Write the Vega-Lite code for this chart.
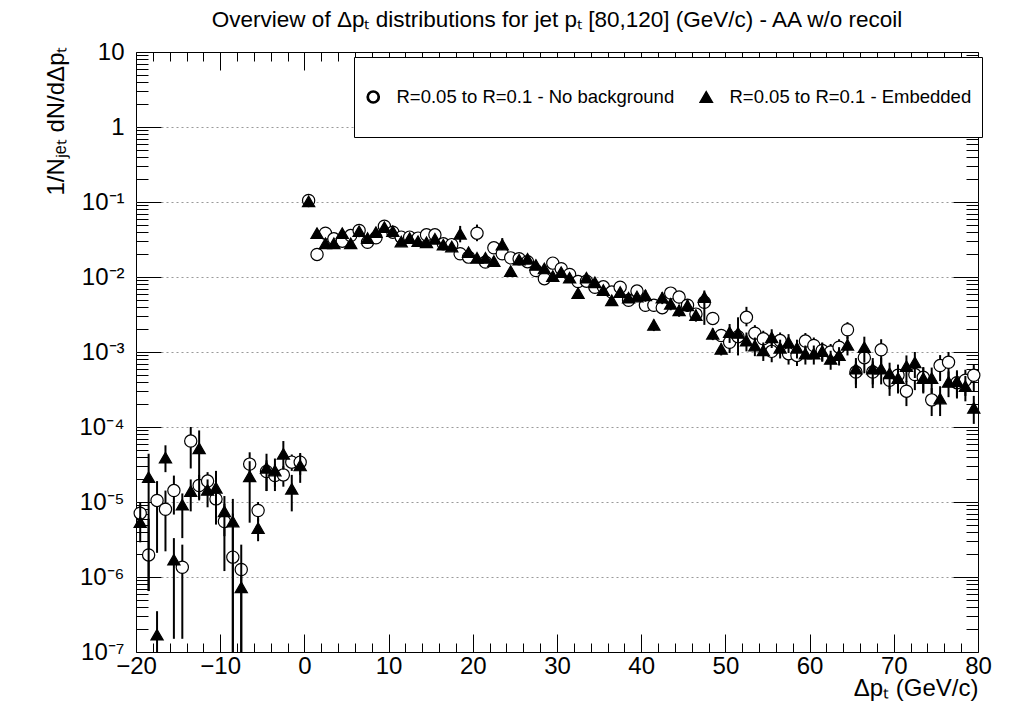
{
"$schema": "https://vega.github.io/schema/vega-lite/v6.json",
"width": 842, "height": 600,
"autosize": {"type": "none"},
"padding": {"left": 136, "top": 52, "right": 31, "bottom": 59},
"background": "white",
"config": {
  "font": "Liberation Sans",
  "view": {"stroke": "black", "strokeWidth": 1},
  "axis": {"labelFont": "Liberation Sans", "titleFont": "Liberation Sans", "labelColor": "black", "titleColor": "black", "tickColor": "black", "tickWidth": 1, "titleFontWeight": "normal", "domain": false, "labelFlush": false, "labelOverlap": false, "grid": false},
  "legend": {"title": null, "orient": "none", "legendX": 218, "legendY": 5, "direction": "horizontal", "padding": 10, "clipHeight": 60, "columnPadding": 22, "labelOffset": 14, "strokeColor": "black", "fillColor": "white", "labelFontSize": 18.5, "labelFont": "Liberation Sans", "labelColor": "black", "labelLimit": 500, "symbolSize": 150, "symbolOpacity": 1}
},
"title": {"text": "Overview of Δpₜ distributions for jet pₜ [80,120] (GeV/c) - AA w/o recoil", "font": "Liberation Sans", "fontSize": 22.5, "fontWeight": "normal", "color": "black", "anchor": "middle", "frame": "group", "baseline": "alphabetic", "offset": -9},
"datasets": {"pts": [
{"x":-19.5,"y":7.1e-6,"s":"n","lo":4.5e-6,"hi":1.0e-5},
{"x":-18.5,"y":1.97e-6,"s":"n","lo":6.5e-7,"hi":6e-6},
{"x":-17.5,"y":1.05e-5,"s":"n","lo":2.1e-6,"hi":1.9e-5},
{"x":-16.5,"y":8.0e-6,"s":"n","lo":2.2e-6,"hi":1.42e-5},
{"x":-15.5,"y":1.42e-5,"s":"n","lo":6.8e-6,"hi":2.25e-5},
{"x":-14.5,"y":1.35e-6,"s":"n","lo":1.5e-7,"hi":2.7e-6},
{"x":-13.5,"y":6.5e-5,"s":"n","lo":2.8e-5,"hi":1.0e-4},
{"x":-12.5,"y":1.66e-5,"s":"n","lo":1.1e-5,"hi":2.3e-5},
{"x":-11.5,"y":1.9e-5,"s":"n","lo":1.4e-5,"hi":2.5e-5},
{"x":-10.5,"y":1.1e-5,"s":"n","lo":7e-6,"hi":1.5e-5},
{"x":-9.5,"y":5.5e-6,"s":"n","lo":1.2e-6,"hi":9.5e-6},
{"x":-8.5,"y":1.84e-6,"s":"n","lo":1e-8,"hi":7e-6},
{"x":-7.5,"y":1.26e-6,"s":"n","lo":1e-8,"hi":2.7e-6},
{"x":-6.5,"y":3.2e-5,"s":"n","lo":1.9e-5,"hi":4.6e-5},
{"x":-5.5,"y":7.7e-6,"s":"n","lo":5.5e-6,"hi":1.0e-5},
{"x":-4.5,"y":2.55e-5,"s":"n","lo":1.4e-5,"hi":3.6e-5},
{"x":-3.5,"y":2.25e-5,"s":"n","lo":1.4e-5,"hi":3.2e-5},
{"x":-2.5,"y":2.3e-5,"s":"n","lo":1.6e-5,"hi":3.0e-5},
{"x":-1.5,"y":3.4e-5,"s":"n","lo":2.6e-5,"hi":4.3e-5},
{"x":-0.5,"y":3.4e-5,"s":"n","lo":2.3e-5,"hi":4.5e-5},
{"x":0.5,"y":0.105,"s":"n"},
{"x":1.5,"y":0.0200,"s":"n"},
{"x":2.5,"y":0.0384,"s":"n"},
{"x":3.5,"y":0.0323,"s":"n"},
{"x":4.5,"y":0.0300,"s":"n"},
{"x":5.5,"y":0.0357,"s":"n"},
{"x":6.5,"y":0.0417,"s":"n"},
{"x":7.5,"y":0.0290,"s":"n"},
{"x":8.5,"y":0.0333,"s":"n"},
{"x":9.5,"y":0.0476,"s":"n"},
{"x":10.5,"y":0.0396,"s":"n"},
{"x":11.5,"y":0.0340,"s":"n"},
{"x":12.5,"y":0.0340,"s":"n"},
{"x":13.5,"y":0.0330,"s":"n"},
{"x":14.5,"y":0.0365,"s":"n"},
{"x":15.5,"y":0.0365,"s":"n"},
{"x":16.5,"y":0.0277,"s":"n"},
{"x":17.5,"y":0.0270,"s":"n"},
{"x":18.5,"y":0.0204,"s":"n"},
{"x":19.5,"y":0.0184,"s":"n"},
{"x":20.5,"y":0.0384,"s":"n","lo":0.030,"hi":0.050},
{"x":21.5,"y":0.0158,"s":"n"},
{"x":22.5,"y":0.0245,"s":"n"},
{"x":23.5,"y":0.0204,"s":"n"},
{"x":24.5,"y":0.0180,"s":"n"},
{"x":25.5,"y":0.0175,"s":"n"},
{"x":26.5,"y":0.0160,"s":"n"},
{"x":27.5,"y":0.0122,"s":"n"},
{"x":28.5,"y":0.0095,"s":"n"},
{"x":29.5,"y":0.0153,"s":"n"},
{"x":30.5,"y":0.0129,"s":"n"},
{"x":31.5,"y":0.0108,"s":"n"},
{"x":32.5,"y":0.0087,"s":"n"},
{"x":33.5,"y":0.0088,"s":"n"},
{"x":34.5,"y":0.0073,"s":"n"},
{"x":35.5,"y":0.0074,"s":"n"},
{"x":36.5,"y":0.0063,"s":"n"},
{"x":37.5,"y":0.0073,"s":"n"},
{"x":38.5,"y":0.0049,"s":"n"},
{"x":39.5,"y":0.0065,"s":"n"},
{"x":40.5,"y":0.0042,"s":"n","lo":0.00344,"hi":0.00496},
{"x":41.5,"y":0.0042,"s":"n","lo":0.00344,"hi":0.00496},
{"x":42.5,"y":0.0039,"s":"n","lo":0.0032,"hi":0.0046},
{"x":43.5,"y":0.0061,"s":"n","lo":0.005,"hi":0.0072},
{"x":44.5,"y":0.0054,"s":"n","lo":0.00443,"hi":0.00637},
{"x":45.5,"y":0.0042,"s":"n","lo":0.00344,"hi":0.00496},
{"x":46.5,"y":0.0032,"s":"n","lo":0.00262,"hi":0.00378},
{"x":47.5,"y":0.0046,"s":"n","lo":0.00377,"hi":0.00543},
{"x":48.5,"y":0.0028,"s":"n","lo":0.0023,"hi":0.0033},
{"x":49.5,"y":0.00166,"s":"n","lo":0.00136,"hi":0.00196},
{"x":50.5,"y":0.00135,"s":"n","lo":0.00097,"hi":0.00173},
{"x":51.5,"y":0.0016,"s":"n","lo":0.00115,"hi":0.00205},
{"x":52.5,"y":0.0029,"s":"n","lo":0.0022,"hi":0.004},
{"x":53.5,"y":0.00178,"s":"n","lo":0.00128,"hi":0.00228},
{"x":54.5,"y":0.0015,"s":"n","lo":0.00108,"hi":0.00192},
{"x":55.5,"y":0.00102,"s":"n","lo":0.00073,"hi":0.00131},
{"x":56.5,"y":0.00142,"s":"n","lo":0.00102,"hi":0.00182},
{"x":57.5,"y":0.00095,"s":"n","lo":0.00068,"hi":0.00122},
{"x":58.5,"y":0.0009,"s":"n","lo":0.00065,"hi":0.00115},
{"x":59.5,"y":0.0014,"s":"n","lo":0.00101,"hi":0.00179},
{"x":60.5,"y":0.00122,"s":"n","lo":0.00088,"hi":0.00156},
{"x":61.5,"y":0.00105,"s":"n","lo":0.00076,"hi":0.00134},
{"x":62.5,"y":0.0010,"s":"n","lo":0.00072,"hi":0.00128},
{"x":63.5,"y":0.00116,"s":"n","lo":0.00084,"hi":0.00148},
{"x":64.5,"y":0.00198,"s":"n","lo":0.0015,"hi":0.0025},
{"x":65.5,"y":0.00054,"s":"n","lo":0.00033,"hi":0.00075},
{"x":66.5,"y":0.00084,"s":"n","lo":0.00052,"hi":0.00116},
{"x":67.5,"y":0.00054,"s":"n","lo":0.00033,"hi":0.00075},
{"x":68.5,"y":0.00107,"s":"n","lo":0.00066,"hi":0.00148},
{"x":69.5,"y":0.00042,"s":"n","lo":0.00026,"hi":0.00058},
{"x":70.5,"y":0.00049,"s":"n","lo":0.0003,"hi":0.00068},
{"x":71.5,"y":0.0003,"s":"n","lo":0.00019,"hi":0.00041},
{"x":72.5,"y":0.0005,"s":"n","lo":0.00031,"hi":0.00069},
{"x":73.5,"y":0.00046,"s":"n","lo":0.00029,"hi":0.00063},
{"x":74.5,"y":0.00023,"s":"n","lo":0.00014,"hi":0.00033},
{"x":75.5,"y":0.00066,"s":"n","lo":0.00041,"hi":0.00091},
{"x":76.5,"y":0.00073,"s":"n","lo":0.00045,"hi":0.001},
{"x":77.5,"y":0.00039,"s":"n","lo":0.00024,"hi":0.00054},
{"x":78.5,"y":0.00042,"s":"n","lo":0.00026,"hi":0.00058},
{"x":79.5,"y":0.00049,"s":"n","lo":0.0003,"hi":0.00068},
{"x":-19.5,"y":5.4e-6,"s":"e","lo":2.9e-6,"hi":8.7e-6},
{"x":-18.5,"y":2.14e-5,"s":"e","lo":6.5e-7,"hi":4.4e-5},
{"x":-17.5,"y":1.7e-7,"s":"e","lo":1e-8,"hi":3.5e-7},
{"x":-16.5,"y":3.9e-5,"s":"e","lo":2.5e-5,"hi":5.7e-5},
{"x":-15.5,"y":1.7e-6,"s":"e","lo":1.5e-7,"hi":3.3e-6},
{"x":-14.5,"y":9.2e-6,"s":"e","lo":3.3e-6,"hi":1.3e-5},
{"x":-13.5,"y":1.4e-5,"s":"e","lo":7.5e-6,"hi":2.0e-5},
{"x":-12.5,"y":5.2e-5,"s":"e","lo":1.05e-5,"hi":9e-5},
{"x":-11.5,"y":1.45e-5,"s":"e","lo":8.5e-6,"hi":2.0e-5},
{"x":-10.5,"y":1.55e-5,"s":"e","lo":5e-6,"hi":2.6e-5},
{"x":-9.5,"y":7.5e-6,"s":"e","lo":3.5e-6,"hi":1.2e-5},
{"x":-8.5,"y":5.5e-6,"s":"e","lo":1e-8,"hi":1.1e-5},
{"x":-7.5,"y":7.3e-7,"s":"e","lo":1e-8,"hi":1.5e-6},
{"x":-6.5,"y":2.2e-5,"s":"e","lo":5.3e-6,"hi":3.5e-5},
{"x":-5.5,"y":4.5e-6,"s":"e","lo":3e-6,"hi":6e-6},
{"x":-4.5,"y":2.86e-5,"s":"e","lo":1.4e-5,"hi":4.4e-5},
{"x":-3.5,"y":2.63e-5,"s":"e","lo":1.6e-5,"hi":3.8e-5},
{"x":-2.5,"y":4.4e-5,"s":"e","lo":2.7e-5,"hi":6.5e-5},
{"x":-1.5,"y":1.5e-5,"s":"e","lo":7.5e-6,"hi":2.3e-5},
{"x":-0.5,"y":3.07e-5,"s":"e","lo":1.8e-5,"hi":4.3e-5},
{"x":0.5,"y":0.102,"s":"e"},
{"x":1.5,"y":0.0384,"s":"e"},
{"x":2.5,"y":0.0282,"s":"e"},
{"x":3.5,"y":0.0282,"s":"e"},
{"x":4.5,"y":0.0384,"s":"e"},
{"x":5.5,"y":0.0282,"s":"e"},
{"x":6.5,"y":0.0408,"s":"e"},
{"x":7.5,"y":0.0330,"s":"e"},
{"x":8.5,"y":0.0396,"s":"e"},
{"x":9.5,"y":0.0462,"s":"e"},
{"x":10.5,"y":0.0408,"s":"e"},
{"x":11.5,"y":0.0297,"s":"e"},
{"x":12.5,"y":0.0330,"s":"e"},
{"x":13.5,"y":0.0300,"s":"e"},
{"x":14.5,"y":0.0290,"s":"e"},
{"x":15.5,"y":0.0323,"s":"e"},
{"x":16.5,"y":0.0270,"s":"e"},
{"x":17.5,"y":0.0255,"s":"e"},
{"x":18.5,"y":0.0377,"s":"e","lo":0.029,"hi":0.048},
{"x":19.5,"y":0.0214,"s":"e"},
{"x":20.5,"y":0.0180,"s":"e"},
{"x":21.5,"y":0.0180,"s":"e"},
{"x":22.5,"y":0.0163,"s":"e"},
{"x":23.5,"y":0.0271,"s":"e","lo":0.023,"hi":0.033},
{"x":24.5,"y":0.0120,"s":"e"},
{"x":25.5,"y":0.0170,"s":"e"},
{"x":26.5,"y":0.0175,"s":"e"},
{"x":27.5,"y":0.0145,"s":"e"},
{"x":28.5,"y":0.0130,"s":"e"},
{"x":29.5,"y":0.0103,"s":"e"},
{"x":30.5,"y":0.0116,"s":"e"},
{"x":31.5,"y":0.0098,"s":"e"},
{"x":32.5,"y":0.0061,"s":"e"},
{"x":33.5,"y":0.0098,"s":"e"},
{"x":34.5,"y":0.0085,"s":"e"},
{"x":35.5,"y":0.0067,"s":"e"},
{"x":36.5,"y":0.0049,"s":"e"},
{"x":37.5,"y":0.0063,"s":"e"},
{"x":38.5,"y":0.0053,"s":"e"},
{"x":39.5,"y":0.0055,"s":"e"},
{"x":40.5,"y":0.0057,"s":"e","lo":0.00467,"hi":0.00673},
{"x":41.5,"y":0.0023,"s":"e","lo":0.0019,"hi":0.0027},
{"x":42.5,"y":0.0053,"s":"e","lo":0.00435,"hi":0.00625},
{"x":43.5,"y":0.0044,"s":"e","lo":0.0036,"hi":0.0052},
{"x":44.5,"y":0.0036,"s":"e","lo":0.00295,"hi":0.00425},
{"x":45.5,"y":0.0042,"s":"e","lo":0.00344,"hi":0.00496},
{"x":46.5,"y":0.0031,"s":"e","lo":0.00254,"hi":0.00366},
{"x":47.5,"y":0.0054,"s":"e","lo":0.0023,"hi":0.0066},
{"x":48.5,"y":0.00175,"s":"e","lo":0.00144,"hi":0.00207},
{"x":49.5,"y":0.0011,"s":"e","lo":0.0009,"hi":0.0013},
{"x":50.5,"y":0.00184,"s":"e","lo":0.00132,"hi":0.00236},
{"x":51.5,"y":0.0018,"s":"e","lo":0.0009,"hi":0.0029},
{"x":52.5,"y":0.00142,"s":"e","lo":0.00102,"hi":0.00182},
{"x":53.5,"y":0.00122,"s":"e","lo":0.00088,"hi":0.00156},
{"x":54.5,"y":0.00105,"s":"e","lo":0.00076,"hi":0.00134},
{"x":55.5,"y":0.00157,"s":"e","lo":0.00113,"hi":0.00201},
{"x":56.5,"y":0.00114,"s":"e","lo":0.00082,"hi":0.00146},
{"x":57.5,"y":0.00135,"s":"e","lo":0.00097,"hi":0.00173},
{"x":58.5,"y":0.00114,"s":"e","lo":0.00082,"hi":0.00146},
{"x":59.5,"y":0.00095,"s":"e","lo":0.00068,"hi":0.00122},
{"x":60.5,"y":0.00095,"s":"e","lo":0.00068,"hi":0.00122},
{"x":61.5,"y":0.00103,"s":"e","lo":0.00074,"hi":0.00132},
{"x":62.5,"y":0.00081,"s":"e","lo":0.00058,"hi":0.00104},
{"x":63.5,"y":0.00091,"s":"e","lo":0.00066,"hi":0.00116},
{"x":64.5,"y":0.00125,"s":"e","lo":0.0009,"hi":0.0016},
{"x":65.5,"y":0.0006,"s":"e","lo":0.00037,"hi":0.00083},
{"x":66.5,"y":0.00116,"s":"e","lo":0.00072,"hi":0.0016},
{"x":67.5,"y":0.0006,"s":"e","lo":0.00037,"hi":0.00083},
{"x":68.5,"y":0.0006,"s":"e","lo":0.00037,"hi":0.00083},
{"x":69.5,"y":0.00052,"s":"e","lo":0.00032,"hi":0.00072},
{"x":70.5,"y":0.00045,"s":"e","lo":0.00028,"hi":0.00062},
{"x":71.5,"y":0.00065,"s":"e","lo":0.0004,"hi":0.0009},
{"x":72.5,"y":0.00073,"s":"e","lo":0.00045,"hi":0.001},
{"x":73.5,"y":0.00045,"s":"e","lo":0.00028,"hi":0.00062},
{"x":74.5,"y":0.00045,"s":"e","lo":0.00028,"hi":0.00062},
{"x":75.5,"y":0.00024,"s":"e","lo":0.00014,"hi":0.00035},
{"x":76.5,"y":0.0004,"s":"e","lo":0.00025,"hi":0.00055},
{"x":77.5,"y":0.00041,"s":"e","lo":0.00025,"hi":0.00057},
{"x":78.5,"y":0.00035,"s":"e","lo":0.00022,"hi":0.00048},
{"x":79.5,"y":0.00018,"s":"e","lo":0.00011,"hi":0.00026}
]},
"data": {"name": "pts"},
"layer": [
  {
    "transform": [{"filter": "datum.s == 'n' && isValid(datum.lo)"}],
    "mark": {"type": "rule", "color": "black", "strokeWidth": 2, "clip": true},
    "encoding": {
      "x": {"field": "x", "type": "quantitative", "scale": {"domain": [-20, 80], "nice": false, "zero": false},
        "axis": {"orient": "bottom", "values": [-20,-10,0,10,20,30,40,50,60,70,80], "ticks": false, "labelFontSize": 24, "labelPadding": 2,
          "title": "Δpₜ (GeV/c)", "titleFontSize": 24, "titleAnchor": "end", "titleAlign": "right", "titleX": 842, "titleY": 43, "titleBaseline": "alphabetic"}},
      "y": {"field": "lo", "type": "quantitative", "scale": {"type": "log", "domain": [1e-7, 10], "nice": false},
        "axis": {"orient": "left", "values": [1e-7,1e-6,1e-5,1e-4,1e-3,1e-2,1e-1,1,10], "ticks": false, "labelFontSize": 24, "labelPadding": 12,
          "labelExpr": "datum.value > 5 ? '10' : datum.value > 0.5 ? '1' : '10' + ['⁻¹','⁻²','⁻³','⁻⁴','⁻⁵','⁻⁶','⁻⁷'][round(-log(datum.value)/LN10) - 1]",
          "title": "1/Nⱼₑₜ dN/dΔpₜ", "titleFontSize": 24, "titleAngle": -90, "titleAlign": "right", "titleBaseline": "middle", "titleX": -80, "titleY": -6}},
      "y2": {"field": "hi"}
    }
  },
  {
    "transform": [{"filter": "datum.s == 'n'"}],
    "mark": {"type": "point", "shape": "circle", "filled": true, "fill": "white", "stroke": "black", "strokeWidth": 1.2, "size": 150, "opacity": 1},
    "encoding": {
      "x": {"field": "x", "type": "quantitative", "scale": {"domain": [-20, 80], "nice": false, "zero": false},
        "axis": {"orient": "bottom", "values": [-20,-10,0,10,20,30,40,50,60,70,80], "labels": false, "tickSize": -18, "title": null}},
      "y": {"field": "y", "type": "quantitative", "scale": {"type": "log", "domain": [1e-7, 10], "nice": false},
        "axis": {"orient": "left", "values": [1e-6,1e-5,1e-4,1e-3,1e-2,1e-1,1], "labels": false, "tickSize": -25, "title": null, "grid": true, "gridColor": "#999999", "gridDash": [2, 3], "gridWidth": 1}}
    }
  },
  {
    "transform": [{"filter": "datum.s == 'e' && isValid(datum.lo)"}],
    "mark": {"type": "rule", "color": "black", "strokeWidth": 2, "clip": true},
    "encoding": {
      "x": {"field": "x", "type": "quantitative", "scale": {"domain": [-20, 80], "nice": false, "zero": false},
        "axis": {"orient": "bottom", "values": [-18,-16,-14,-12,-8,-6,-4,-2,2,4,6,8,12,14,16,18,22,24,26,28,32,34,36,38,42,44,46,48,52,54,56,58,62,64,66,68,72,74,76,78], "labels": false, "tickSize": -9, "title": null}},
      "y": {"field": "lo", "type": "quantitative", "scale": {"type": "log", "domain": [1e-7, 10], "nice": false},
        "axis": {"orient": "left", "values": [2e-7,3e-7,4e-7,5e-7,6e-7,7e-7,8e-7,9e-7,2e-6,3e-6,4e-6,5e-6,6e-6,7e-6,8e-6,9e-6,2e-5,3e-5,4e-5,5e-5,6e-5,7e-5,8e-5,9e-5,2e-4,3e-4,4e-4,5e-4,6e-4,7e-4,8e-4,9e-4,2e-3,3e-3,4e-3,5e-3,6e-3,7e-3,8e-3,9e-3,0.02,0.03,0.04,0.05,0.06,0.07,0.08,0.09,0.2,0.3,0.4,0.5,0.6,0.7,0.8,0.9,2,3,4,5,6,7,8,9], "labels": false, "tickSize": -12, "title": null}},
      "y2": {"field": "hi"}
    }
  },
  {
    "transform": [{"filter": "datum.s == 'e'"}],
    "mark": {"type": "point", "filled": true, "fill": "black", "stroke": "black", "strokeWidth": 1.2, "size": 150, "opacity": 1},
    "encoding": {
      "x": {"field": "x", "type": "quantitative", "scale": {"domain": [-20, 80], "nice": false, "zero": false},
        "axis": {"orient": "top", "values": [-20,-10,0,10,20,30,40,50,60,70,80], "labels": false, "tickSize": -18, "title": null}},
      "y": {"field": "y", "type": "quantitative", "scale": {"type": "log", "domain": [1e-7, 10], "nice": false},
        "axis": {"orient": "right", "values": [1e-6,1e-5,1e-4,1e-3,1e-2,1e-1,1], "labels": false, "tickSize": -25, "title": null}},
      "shape": {"field": "s", "type": "nominal", "scale": {"domain": ["n", "e"], "range": ["M1,0A1,1,0,1,1,-1,0A1,1,0,1,1,1,0Z M0.8,0A0.8,0.8,0,1,0,-0.8,0A0.8,0.8,0,1,0,0.8,0Z", "triangle-up"]},
        "legend": {"labelExpr": "datum.value == 'n' ? 'R=0.05 to R=0.1 - No background' : 'R=0.05 to R=0.1 - Embedded'"}}
    }
  },
  {
    "mark": {"type": "point", "opacity": 0},
    "encoding": {
      "x": {"field": "x", "type": "quantitative", "scale": {"domain": [-20, 80], "nice": false, "zero": false},
        "axis": {"orient": "top", "values": [-18,-16,-14,-12,-8,-6,-4,-2,2,4,6,8,12,14,16,18,22,24,26,28,32,34,36,38,42,44,46,48,52,54,56,58,62,64,66,68,72,74,76,78], "labels": false, "tickSize": -9, "title": null}},
      "y": {"field": "y", "type": "quantitative", "scale": {"type": "log", "domain": [1e-7, 10], "nice": false},
        "axis": {"orient": "right", "values": [2e-7,3e-7,4e-7,5e-7,6e-7,7e-7,8e-7,9e-7,2e-6,3e-6,4e-6,5e-6,6e-6,7e-6,8e-6,9e-6,2e-5,3e-5,4e-5,5e-5,6e-5,7e-5,8e-5,9e-5,2e-4,3e-4,4e-4,5e-4,6e-4,7e-4,8e-4,9e-4,2e-3,3e-3,4e-3,5e-3,6e-3,7e-3,8e-3,9e-3,0.02,0.03,0.04,0.05,0.06,0.07,0.08,0.09,0.2,0.3,0.4,0.5,0.6,0.7,0.8,0.9,2,3,4,5,6,7,8,9], "labels": false, "tickSize": -12, "title": null}}
    }
  }
],
"resolve": {"axis": {"x": "independent", "y": "independent"}}
}
